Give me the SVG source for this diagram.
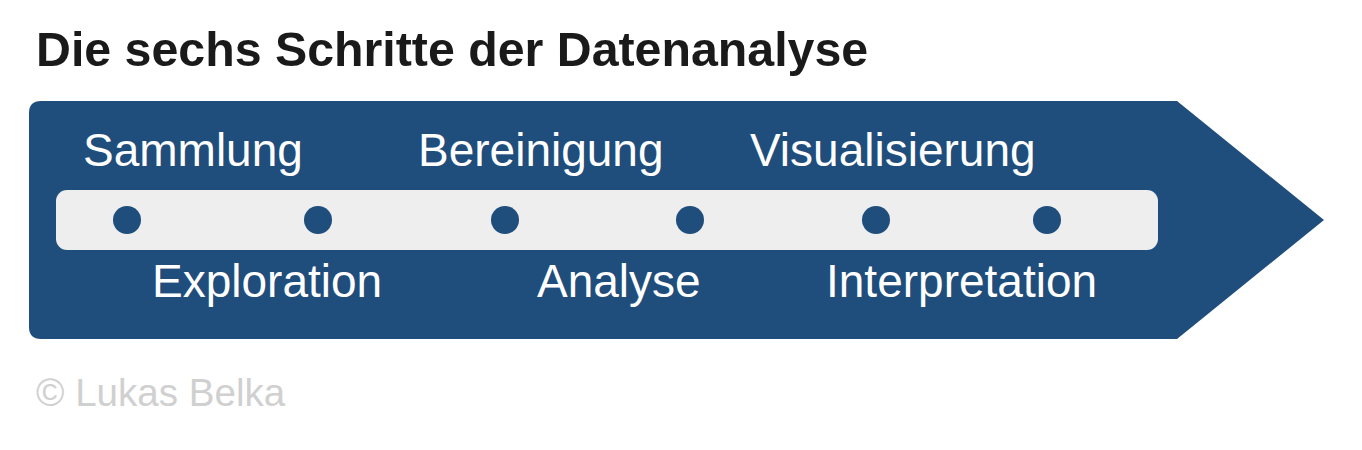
<svg xmlns="http://www.w3.org/2000/svg" width="1362" height="450" viewBox="0 0 1362 450">
<style>
.title{font-family:"Liberation Sans",Arial,sans-serif;font-weight:bold;font-size:48.3px;fill:#1a1a1a}
.lbl{font-family:"Liberation Sans",Arial,sans-serif;font-size:46px;fill:#ffffff}
.foot{font-family:"Liberation Sans",Arial,sans-serif;font-size:38.6px;fill:#d0d0d0}
.dot{fill:#1f4d7c}
</style>
<rect width="1362" height="450" fill="#ffffff"/>
<text class="title" x="36" y="66">Die sechs Schritte der Datenanalyse</text>
<g id="arrow">
<path d="M41,101 L1177,101 L1324,220 L1177,339 L41,339 Q29,339 29,327 L29,113 Q29,101 41,101 Z" fill="#1f4d7c"/>
</g>
<g id="track">
<rect x="56" y="190" width="1102" height="60" rx="11" fill="#eeeeee"/>
</g>
<g id="connectors"></g>
<g id="step1"><circle class="dot" cx="127" cy="220" r="14"/><text class="lbl" x="83" y="166">Sammlung</text></g>
<g id="step2"><circle class="dot" cx="318" cy="220" r="14"/><text class="lbl" x="152" y="297">Exploration</text></g>
<g id="step3"><circle class="dot" cx="505" cy="220" r="14"/><text class="lbl" x="418" y="166">Bereinigung</text></g>
<g id="step4"><circle class="dot" cx="690" cy="220" r="14"/><text class="lbl" x="537" y="297">Analyse</text></g>
<g id="step5"><circle class="dot" cx="876" cy="220" r="14"/><text class="lbl" x="750" y="166">Visualisierung</text></g>
<g id="step6"><circle class="dot" cx="1047" cy="220" r="14"/><text class="lbl" x="826" y="297">Interpretation</text></g>
<text class="foot" x="36" y="406">© Lukas Belka</text>
</svg>
